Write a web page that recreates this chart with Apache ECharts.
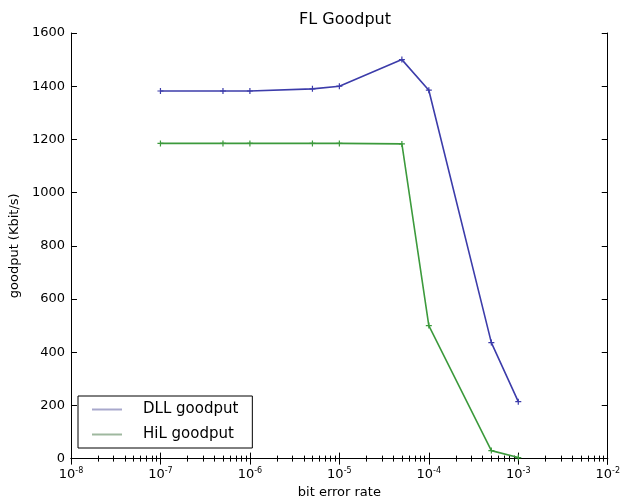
<!DOCTYPE html>
<html><head><meta charset="utf-8">
<script src="https://cdn.jsdelivr.net/npm/echarts@6/dist/echarts.min.js"></script>
<style>html,body{margin:0;padding:0;background:#fff}#c{width:623px;height:504px}</style>
</head><body><div id="c"></div>
<script>
const bitErrorRates = [1e-7, 5e-7, 1e-6, 5e-6, 1e-5, 5e-5, 1e-4, 5e-4, 1e-3];
const dllGoodput = [1382, 1382, 1382, 1390, 1400, 1500, 1385, 436, 214];
const hilGoodput = [1185, 1185, 1185, 1185, 1185, 1183, 500, 30, 4];
const seriesNames = ['DLL goodput', 'HiL goodput'];
const yTicks = [0, 200, 400, 600, 800, 1000, 1200, 1400, 1600];

const font = 'DejaVu Sans';
const plus = 'path://M4,0h2v4h4v2h-4v4h-2v-4h-4v-2h4z';
function pairs(xs, ys){ return xs.map((x,i)=>[x, ys[i]]); }
function expLabel(v){
  const e = Math.round(Math.log10(v));
  return '{b|10}{s|' + e + '}';
}
const chart = echarts.init(document.getElementById('c'), null, {renderer:'canvas'});
const axisLine = {show:true, lineStyle:{color:'#000', width:1}};
const xBase = {
  type:'log', logBase:10, min:1e-8, max:1e-2, interval:1,
  axisLine, splitLine:{show:false},
  axisTick:{show:true, inside:true, length:6, lineStyle:{color:'#000'}},
  minorTick:{show:true, splitNumber:9, length:3, lineStyle:{color:'#000'}},
};
chart.setOption({
  animation:false,
  title:{text:'FL Goodput', left:340, top:7, textAlign:'center',
    textStyle:{fontFamily:font, fontSize:16, fontWeight:'normal', color:'#000'}},
  grid:{left:68, right:11, top:33, bottom:45},
  legend:{
    data:[
      {name:seriesNames[0], itemStyle:{color:'#a8a8cc'}},
      {name:seriesNames[1], itemStyle:{color:'#9fb89f'}}
    ],
    orient:'vertical', left:78, top:396,
    itemWidth:30, itemHeight:2, itemGap:10,
    borderColor:'#000', borderWidth:1, padding:[6,14,6,14],
    textStyle:{fontFamily:font, fontSize:15, color:'#000', padding:[0,0,0,16]},
    icon:'rect'
  },
  xAxis:[
    Object.assign({}, xBase, {
      name:'bit error rate', nameLocation:'middle', nameGap:27,
      nameTextStyle:{fontFamily:font, fontSize:13, color:'#000'},
      axisLabel:{formatter:expLabel, margin:8,
        rich:{b:{fontFamily:font, fontSize:13, color:'#000'},
              s:{fontFamily:font, fontSize:8, color:'#000', verticalAlign:'bottom', padding:[0,0,8,0]}}}
    }),
    Object.assign({}, xBase, {position:'top', axisLabel:{show:false}})
  ],
  yAxis:[
    {type:'value', min:0, max:1600, interval:200,
     name:'goodput (Kbit/s)', nameLocation:'middle', nameGap:44,
     nameTextStyle:{fontFamily:font, fontSize:13, color:'#000'},
     axisLine, splitLine:{show:false},
     axisTick:{show:true, inside:true, length:6, lineStyle:{color:'#000'}},
     axisLabel:{fontFamily:font, fontSize:13, color:'#000', margin:6,
       formatter:(v)=> yTicks.includes(v) ? String(v) : ''}},
    {type:'value', min:0, max:1600, interval:200, position:'right',
     axisLine, splitLine:{show:false},
     axisTick:{show:true, inside:true, length:6, lineStyle:{color:'#000'}},
     axisLabel:{show:false}}
  ],
  series:[
    {name:seriesNames[0], type:'line', data:pairs(bitErrorRates, dllGoodput),
     color:'#3c3caa', lineStyle:{width:1.6}, symbol:plus, symbolSize:6, showSymbol:true},
    {name:seriesNames[1], type:'line', data:pairs(bitErrorRates, hilGoodput),
     color:'#3c9a3c', lineStyle:{width:1.6}, symbol:plus, symbolSize:6, showSymbol:true}
  ]
});
</script></body></html>
